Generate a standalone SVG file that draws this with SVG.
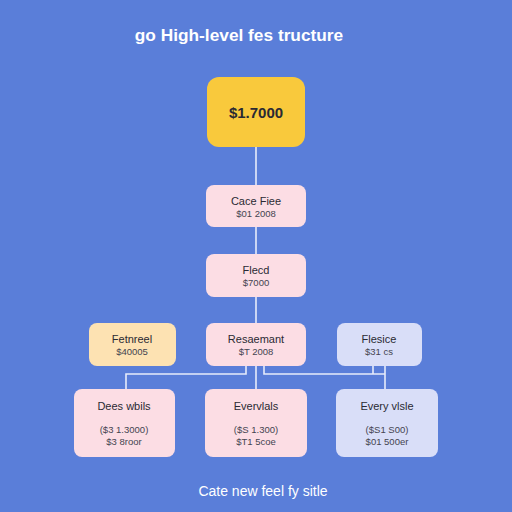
<svg xmlns="http://www.w3.org/2000/svg" width="512" height="512" viewBox="0 0 512 512">
<defs>
<style>
.bg{fill:#5A7ED9}
.pink{fill:#FCDDE4}
.yel{fill:#F9C93C}
.peach{fill:#FDE2B2}
.lav{fill:#D9DEF8}
.ln{stroke:#E6ECFA;stroke-width:1.6;fill:none}
.t{font-family:"Liberation Sans",Arial,sans-serif;fill:#2A2A33;text-anchor:middle}
.h{font-size:11px}
.s{font-size:9.5px;fill:#444450}
.w{font-family:"Liberation Sans",Arial,sans-serif;fill:#FFFFFF;text-anchor:middle}
</style>
</defs>
<rect class="bg" x="0" y="0" width="512" height="512"/>
<text class="w" x="239" y="41" font-size="17.3" font-weight="bold">go High-level fes tructure</text>
<g id="connectors">
<path class="ln" d="M256 147V185M256 227V254M256 297V323"/>
<path class="ln" d="M256 366V389M246 366V374H126V389M264 366V374H385V389M373 366V374M385 366V374"/>
</g>
<g id="n-top"><rect class="yel" x="207" y="77" width="98" height="70" rx="12"/><text class="t" x="256" y="118" font-size="15" font-weight="bold">$1.7000</text></g>
<g id="n-cace"><rect class="pink" x="206" y="185" width="100" height="42" rx="8"/><text class="t h" x="256" y="205">Cace Fiee</text><text class="t s" x="256" y="217">$01 2008</text></g>
<g id="n-flecd"><rect class="pink" x="206" y="254" width="100" height="43" rx="8"/><text class="t h" x="256" y="274">Flecd</text><text class="t s" x="256" y="286">$7000</text></g>
<g id="n-res"><rect class="pink" x="206" y="323" width="100" height="43" rx="8"/><text class="t h" x="256" y="343">Resaemant</text><text class="t s" x="256" y="355">$T 2008</text></g>
<g id="n-fet"><rect class="peach" x="89" y="323" width="87" height="43" rx="8"/><text class="t h" x="132" y="343">Fetnreel</text><text class="t s" x="132" y="355">$40005</text></g>
<g id="n-fle"><rect class="lav" x="337" y="323" width="85" height="43" rx="8"/><text class="t h" x="379" y="343">Flesice</text><text class="t s" x="379" y="355">$31 cs</text></g>
<g id="n-dees"><rect class="pink" x="74" y="389" width="101" height="68" rx="8"/><text class="t h" x="124" y="410">Dees wbils</text><text class="t s" x="124" y="433">($3 1.3000)</text><text class="t s" x="124" y="445">$3 8roor</text></g>
<g id="n-ever1"><rect class="pink" x="205" y="389" width="102" height="68" rx="8"/><text class="t h" x="256" y="410">Evervlals</text><text class="t s" x="256" y="433">($S 1.300)</text><text class="t s" x="256" y="445">$T1 5coe</text></g>
<g id="n-ever2"><rect class="lav" x="336" y="389" width="102" height="68" rx="8"/><text class="t h" x="387" y="410">Every vlsle</text><text class="t s" x="387" y="433">($S1 S00)</text><text class="t s" x="387" y="445">$01 500er</text></g>
<text class="w" x="263" y="496" font-size="14">Cate new feel fy sitle</text>
</svg>
